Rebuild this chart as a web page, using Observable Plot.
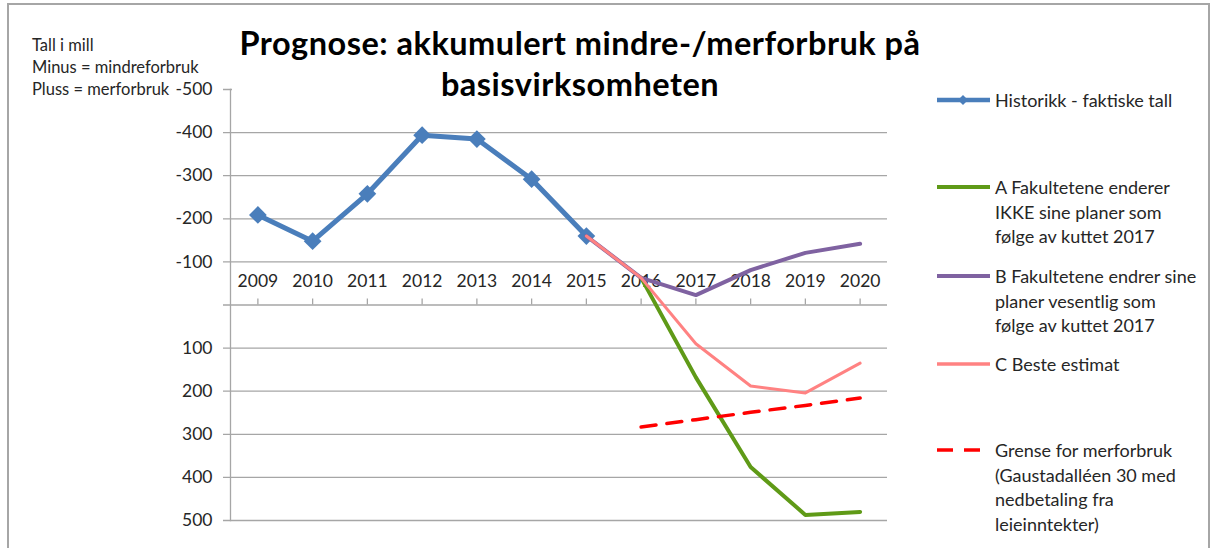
<!DOCTYPE html>
<html>
<head>
<meta charset="utf-8">
<script src="https://cdn.jsdelivr.net/npm/d3@7"></script>
<script src="https://cdn.jsdelivr.net/npm/@observablehq/plot@0.6"></script>
<style>
  html, body { margin: 0; padding: 0; background: #fff; }
  #wrap { position: relative; width: 1211px; height: 548px; overflow: hidden; font-family: Lato, "Open Sans", sans-serif; color: #262626; }
  #border { position: absolute; left: 7px; top: 3px; width: 1199px; height: 600px; border: 2px solid #a6a6a6; }
  #chart { position: absolute; left: 0; top: 0; }
  #title { position: absolute; left: 232px; top: 22px; width: 696px; height: 89px; background: #fff; text-align: center; font-weight: bold; font-size: 32.5px; letter-spacing: 0.5px; line-height: 41px; color: #000; }
  #note { position: absolute; left: 32px; top: 34px; font-size: 16.5px; line-height: 22px; }
  #legend { position: absolute; left: 936px; top: 0; width: 272px; font-size: 18px; line-height: 24.5px; }
  .item { position: absolute; left: 0; display: flex; align-items: flex-start; }
  .item svg { flex: none; margin-top: 0; }
  .item .lbl { margin-left: 5px; white-space: nowrap; }
</style>
</head>
<body>
<div id="wrap">
  <div id="border"></div>
  <div id="chart"></div>
  <div id="title">Prognose: akkumulert mindre-/merforbruk på<br>basisvirksomheten</div>
  <div id="note">Tall i mill<br>Minus = mindreforbruk<br>Pluss = merforbruk</div>
  <div id="legend"></div>
</div>
<script>
// ---- data ----
const years = [2009, 2010, 2011, 2012, 2013, 2014, 2015, 2016, 2017, 2018, 2019, 2020];
const yTicks = [-500, -400, -300, -200, -100, 100, 200, 300, 400, 500];
const gridTicks = [-500, -400, -300, -200, -100, 0, 100, 200, 300, 400, 500];

const histYears = [2009, 2010, 2011, 2012, 2013, 2014, 2015];
const historikk = [-209, -148, -258, -394, -385, -292, -160];

const aYears = [2016, 2017, 2018, 2019, 2020];
const scenA = [-63, 168, 376, 487, 480];

const bYears = [2015, 2016, 2017, 2018, 2019, 2020];
const scenB = [-160, -63, -23, -81, -121, -142];

const cYears = [2015, 2016, 2017, 2018, 2019, 2020];
const scenC = [-160, -63, 90, 188, 204, 135];

const gYears = [2016, 2017, 2018, 2019, 2020];
const grense = [283, 266, 249, 233, 216];

const seriesNames = [
  "Historikk - faktiske tall",
  "A Fakultetene enderer\nIKKE sine planer som\nfølge av kuttet 2017",
  "B Fakultetene endrer sine\nplaner vesentlig som\nfølge av kuttet 2017",
  "C Beste estimat",
  "Grense for merforbruk\n(Gaustadalléen 30 med\nnedbetaling fra\nleieinntekter)"
];
const colors = ["#4a7ebb", "#5f9a17", "#7f62a1", "#ff8282", "#ff0000"];

// ---- tables ----
const toRows = (xs, vs) => xs.map((x, i) => ({year: x, value: vs[i]}));
const histRows = toRows(histYears, historikk);
const aRows = toRows(aYears, scenA);
const bRows = toRows(bYears, scenB);
const cRows = toRows(cYears, scenC);
const gRows = toRows(gYears, grense);

const chart = Plot.plot({
  width: 1211,
  height: 548,
  marginLeft: 230,
  marginRight: 324,
  marginTop: 89,
  marginBottom: 28,
  style: {fontFamily: "Lato, 'Open Sans', sans-serif", background: "transparent", overflow: "visible"},
  x: {type: "point", domain: years, padding: 0.5, round: false, axis: null},
  y: {domain: [-500, 500], reverse: true, axis: null},
  marks: [
    Plot.ruleY(gridTicks, {stroke: "#a6a6a6", strokeWidth: 1.3, insetLeft: -7}),
    Plot.frame({anchor: "left", stroke: "#a6a6a6", strokeWidth: 1.3}),
    Plot.ruleX(years, {x: d => d, y1: 0, y2: 0, insetTop: -6, stroke: "#a6a6a6", strokeWidth: 1.3}),
    Plot.axisY({ticks: yTicks, label: null, tickSize: 0, tickPadding: 18, tickFormat: d => String(d), fontSize: 17.5, fill: "#262626"}),
    Plot.text(years, {x: d => d, y: 0, dy: -24, text: d => String(d), fontSize: 17.5, fill: "#262626"}),
    Plot.line(histRows, {x: "year", y: "value", stroke: colors[0], strokeWidth: 5}),
    Plot.dot(histRows, {x: "year", y: "value", symbol: "diamond2", r: 8, fill: colors[0], stroke: "none"}),
    Plot.line(aRows, {x: "year", y: "value", stroke: colors[1], strokeWidth: 4}),
    Plot.line(bRows, {x: "year", y: "value", stroke: colors[2], strokeWidth: 4}),
    Plot.line(cRows, {x: "year", y: "value", stroke: colors[3], strokeWidth: 3}),
    Plot.line(gRows, {x: "year", y: "value", stroke: colors[4], strokeWidth: 3.5, strokeDasharray: "15,11"})
  ]
});
document.getElementById("chart").appendChild(chart);

// ---- legend ----
const legendTops = [88, 175, 264, 352, 438];
const legend = document.getElementById("legend");
seriesNames.forEach((name, i) => {
  const item = document.createElement("div");
  item.className = "item";
  item.style.top = legendTops[i] + "px";
  let sw;
  if (i === 0) {
    sw = `<svg width="54" height="24"><line x1="1" x2="54" y1="12" y2="12" stroke="${colors[i]}" stroke-width="4.5"/><path d="M27,7 L32,12 L27,17 L22,12 Z" fill="${colors[i]}"/></svg>`;
  } else if (i === 4) {
    sw = `<svg width="54" height="24"><line x1="1" x2="45" y1="12" y2="12" stroke="${colors[i]}" stroke-width="3.5" stroke-dasharray="16,11"/></svg>`;
  } else {
    sw = `<svg width="54" height="24"><line x1="1" x2="54" y1="12" y2="12" stroke="${colors[i]}" stroke-width="${i === 3 ? 3.5 : 4}"/></svg>`;
  }
  item.innerHTML = sw + `<div class="lbl">${name.replace(/\n/g, "<br>")}</div>`;
  legend.appendChild(item);
});
</script>
</body>
</html>
